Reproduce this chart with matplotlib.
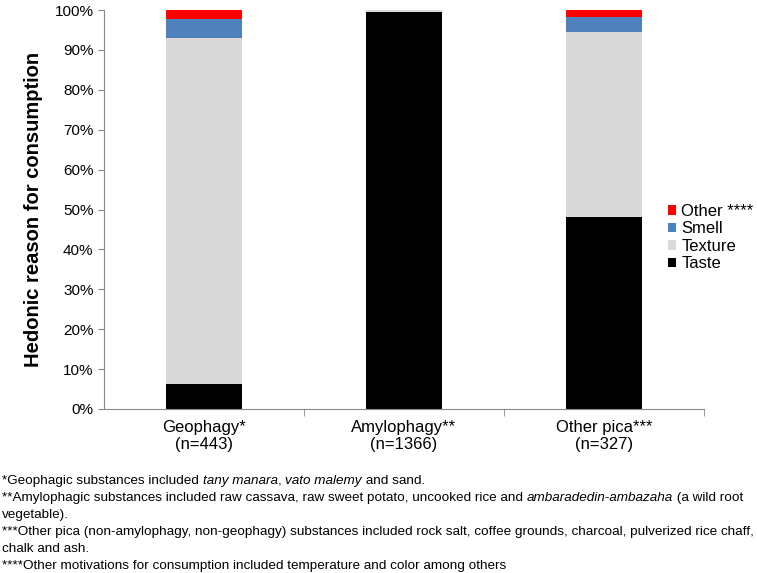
import numpy as np
import matplotlib
matplotlib.use('Agg')
import matplotlib.pyplot as plt
from matplotlib.ticker import PercentFormatter

plt.rcParams['font.family'] = ['Liberation Sans', 'DejaVu Sans']

# data (percent of responses)
groups = ['Geophagy*\n(n=443)', 'Amylophagy**\n(n=1366)', 'Other pica***\n(n=327)']
taste = [6.3, 99.5, 48.1]
texture = [86.8, 0.5, 46.5]
smell = [4.6, 0.0, 3.6]
other = [2.3, 0.0, 1.8]

series = ['Taste', 'Texture', 'Smell', 'Other ****']
colors = ['#000000', '#D9D9D9', '#4F81BD', '#FF0000']

fig = plt.figure(figsize=(7.57, 5.73), dpi=100)
ax = fig.add_axes([104/757, 1 - 409/573, 600/757, 399/573])

x = np.arange(len(groups))
bottom = np.zeros(len(groups))
for vals, lab, col in zip([taste, texture, smell, other], series, colors):
    ax.bar(x, vals, 0.38, bottom=bottom, color=col, label=lab, linewidth=0)
    bottom += np.array(vals)

ax.set_xlim(-0.5, 2.5)
ax.set_ylim(0, 100)
ax.set_yticks(np.arange(0, 101, 10))
ax.yaxis.set_major_formatter(PercentFormatter(decimals=0))
ax.set_xticks(x)
ax.set_xticklabels(groups, fontsize=12, linespacing=1.15)
ax.set_xticks([0.5, 1.5, 2.5], minor=True)
ax.tick_params(axis='x', which='major', length=0, pad=8)
ax.tick_params(axis='x', which='minor', length=5, color='#888888')
ax.tick_params(axis='y', labelsize=11, length=4, color='#888888')
for s in ['top', 'right']:
    ax.spines[s].set_visible(False)
for s in ['left', 'bottom']:
    ax.spines[s].set_color('#888888')

ax.set_ylabel('Hedonic reason for consumption', fontsize=14.5, fontweight='bold', labelpad=8)

h, l = ax.get_legend_handles_labels()
ax.legend(h[::-1], l[::-1], loc='center left', bbox_to_anchor=(0.915, 0.43), frameon=False,
          fontsize=12, handlelength=0.5, handleheight=0.5, handletextpad=0.3, labelspacing=0.15)

# footnotes, some words in italics
foot = [
    [('*Geophagic substances included ', 'normal'), ('tany manara', 'italic'), (', ', 'normal'),
     ('vato malemy', 'italic'), (' and sand.', 'normal')],
    [('**Amylophagic substances included raw cassava, raw sweet potato, uncooked rice and ', 'normal'),
     ('ambaradedin-ambazaha', 'italic'), (' (a wild root', 'normal')],
    [('vegetable).', 'normal')],
    [('***Other pica (non-amylophagy, non-geophagy) substances included rock salt, coffee grounds, charcoal, pulverized rice chaff,', 'normal')],
    [('chalk and ash.', 'normal')],
    [('****Other motivations for consumption included temperature and color among others', 'normal')],
]
fs = 9.7
for i, line in enumerate(foot):
    yy = 1 - (481 + i * 17.0) / 573
    txt, st = line[0]
    prev = fig.text(0.003, yy, txt, fontsize=fs, style=st, va='center')
    # the other parts follow on the same line
    for txt, st in line[1:]:
        prev = ax.annotate(txt, xy=(1, 0), xycoords=prev, va='bottom', fontsize=fs,
                           style=st, annotation_clip=False)

fig.savefig('out.png', dpi=100)
